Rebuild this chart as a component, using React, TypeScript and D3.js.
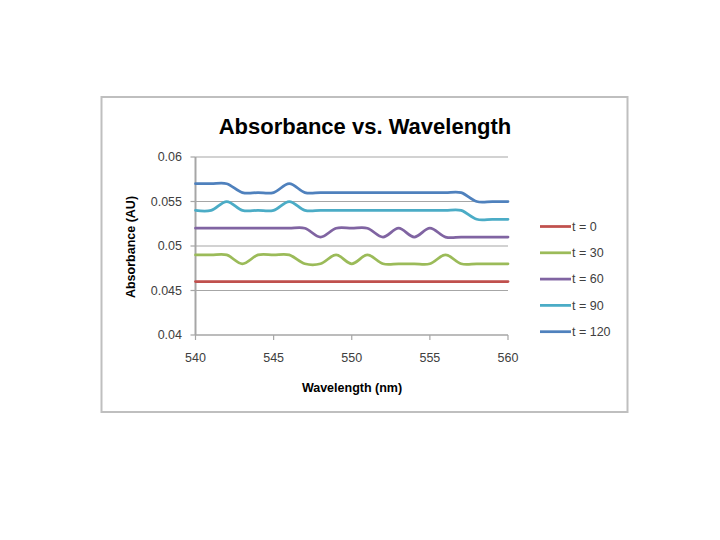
import React from "react";
import * as d3 from "d3";

const wavelengths = [540, 541, 542, 543, 544, 545, 546, 547, 548, 549, 550, 551, 552, 553, 554, 555, 556, 557, 558, 559, 560];
const t0 = [0.046, 0.046, 0.046, 0.046, 0.046, 0.046, 0.046, 0.046, 0.046, 0.046, 0.046, 0.046, 0.046, 0.046, 0.046, 0.046, 0.046, 0.046, 0.046, 0.046, 0.046];
const t30 = [0.049, 0.049, 0.049, 0.048, 0.049, 0.049, 0.049, 0.048, 0.048, 0.049, 0.048, 0.049, 0.048, 0.048, 0.048, 0.048, 0.049, 0.048, 0.048, 0.048, 0.048];
const t60 = [0.052, 0.052, 0.052, 0.052, 0.052, 0.052, 0.052, 0.052, 0.051, 0.052, 0.052, 0.052, 0.051, 0.052, 0.051, 0.052, 0.051, 0.051, 0.051, 0.051, 0.051];
const t90 = [0.054, 0.054, 0.055, 0.054, 0.054, 0.054, 0.055, 0.054, 0.054, 0.054, 0.054, 0.054, 0.054, 0.054, 0.054, 0.054, 0.054, 0.054, 0.053, 0.053, 0.053];
const t120 = [0.057, 0.057, 0.057, 0.056, 0.056, 0.056, 0.057, 0.056, 0.056, 0.056, 0.056, 0.056, 0.056, 0.056, 0.056, 0.056, 0.056, 0.056, 0.055, 0.055, 0.055];

const seriesNames = ["t = 0", "t = 30", "t = 60", "t = 90", "t = 120"];
const seriesValues = [t0, t30, t60, t90, t120];
const seriesColors = ["#C0504D", "#9BBB59", "#8064A2", "#4BACC6", "#4F81BD"];

const xTicks = [540, 545, 550, 555, 560];
const yTicks = [0.04, 0.045, 0.05, 0.055, 0.06];
const yTickLabels = ["0.04", "0.045", "0.05", "0.055", "0.06"];

const title = "Absorbance vs. Wavelength";
const xTitle = "Wavelength (nm)";
const yTitle = "Absorbance (AU)";

export default function App() {
  const x = d3.scaleLinear().domain([540, 560]).range([195.5, 508]);
  const y = d3.scaleLinear().domain([0.04, 0.06]).range([335, 157]);
  const line = d3
    .line<number>()
    .x((_, i) => x(wavelengths[i]))
    .y((d) => y(d))
    .curve(d3.curveCardinal.tension(0));

  const font = "'Liberation Sans', Arial, sans-serif";
  const legendX = 540;
  const legendY0 = 226.5;
  const legendStep = 26.3;

  return (
    <svg
      width={720}
      height={540}
      style={{ position: "absolute", left: 0, top: 0, background: "#fff" }}
      fontFamily={font}
    >
      <rect x={0} y={0} width={720} height={540} fill="#fff" />
      <rect x={101.5} y={97} width={526} height={315} fill="#fff" stroke="#BFBFBF" strokeWidth={2} />
      <text x={365} y={134} textAnchor="middle" fontSize={22} fontWeight="bold" fill="#000">
        {title}
      </text>

      {/* gridlines */}
      {yTicks.slice(1).map((t) => (
        <line key={"g" + t} x1={x(540)} x2={x(560)} y1={y(t)} y2={y(t)} stroke="#A6A6A6" strokeWidth={1.2} />
      ))}
      {/* y axis */}
      <line x1={x(540)} x2={x(540)} y1={y(0.06)} y2={y(0.04)} stroke="#A6A6A6" strokeWidth={2} />
      {yTicks.map((t, i) => (
        <g key={"y" + t}>
          <line x1={x(540) - 5} x2={x(540)} y1={y(t)} y2={y(t)} stroke="#A6A6A6" strokeWidth={1.2} />
          <text x={182} y={y(t)} dy="0.35em" textAnchor="end" fontSize={12.5} fill="#404040">
            {yTickLabels[i]}
          </text>
        </g>
      ))}
      {/* x axis */}
      <line x1={x(540)} x2={x(560)} y1={y(0.04)} y2={y(0.04)} stroke="#A6A6A6" strokeWidth={1.5} />
      {xTicks.map((t) => (
        <g key={"x" + t}>
          <line x1={x(t)} x2={x(t)} y1={y(0.04)} y2={y(0.04) + 5} stroke="#A6A6A6" strokeWidth={1.2} />
          <text x={x(t)} y={358} dy="0.35em" textAnchor="middle" fontSize={12.5} fill="#404040">
            {t}
          </text>
        </g>
      ))}

      <text x={352} y={388} dy="0.35em" textAnchor="middle" fontSize={12.5} fontWeight="bold" fill="#000">
        {xTitle}
      </text>
      <text
        transform={`translate(131,247) rotate(-90)`}
        dy="0.35em"
        textAnchor="middle"
        fontSize={12.5}
        fontWeight="bold"
        fill="#000"
      >
        {yTitle}
      </text>

      {/* series */}
      {seriesValues.map((vals, i) => (
        <path
          key={"s" + i}
          d={line(vals) || ""}
          fill="none"
          stroke={seriesColors[i]}
          strokeWidth={2.75}
          strokeLinejoin="round"
          strokeLinecap="round"
        />
      ))}

      {/* legend */}
      {seriesNames.map((name, i) => {
        const ly = legendY0 + i * legendStep;
        return (
          <g key={"l" + i}>
            <line x1={legendX} x2={legendX + 31} y1={ly} y2={ly} stroke={seriesColors[i]} strokeWidth={2.75} />
            <text x={legendX + 32} y={ly} dy="0.35em" fontSize={12.5} fill="#404040">
              {name}
            </text>
          </g>
        );
      })}
    </svg>
  );
}
